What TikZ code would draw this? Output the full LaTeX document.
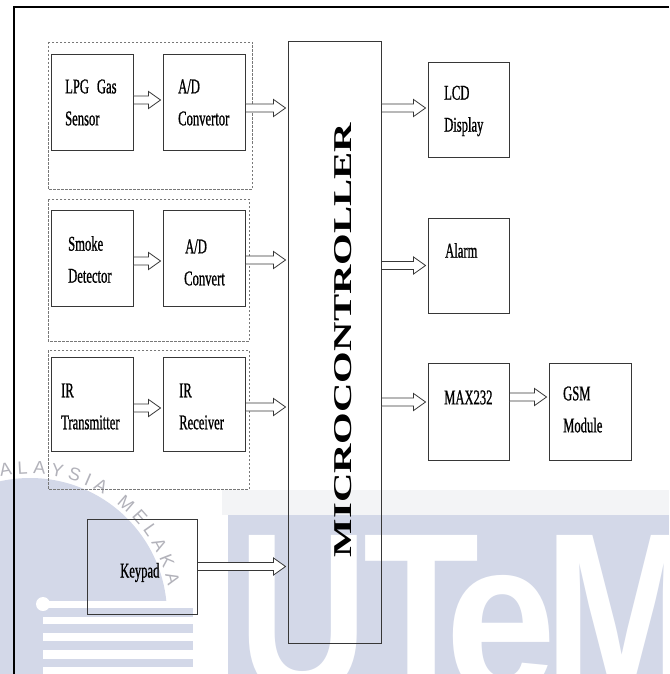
\documentclass[tikz,border=0pt]{standalone}
\usepackage{fontspec}
\setmainfont{Liberation Serif}
\newfontfamily\lblfont[FakeStretch=0.6,FakeBold=0.8]{Liberation Serif}
\newfontfamily\wmfont{Liberation Sans}
\usepackage{graphicx}
\usetikzlibrary{calc,decorations.text}
\definecolor{lav}{RGB}{211,216,232}
\definecolor{faint}{RGB}{243,244,246}
\definecolor{ringgray}{RGB}{178,178,186}
\definecolor{boxline}{RGB}{55,55,55}
\definecolor{dashline}{RGB}{120,120,120}
\newcommand\ringfmt{\wmfont\fontsize{18}{18}\selectfont\color{ringgray}}
\begin{document}
\begin{tikzpicture}[x=1pt,y=-1pt,
  blk/.style={draw=boxline, line width=0.9pt, minimum width=82pt, minimum height=96pt, inner sep=0pt},
  lbl/.style={anchor=west, align=left, inner sep=0pt, text=black, font=\lblfont\fontsize{21}{32}\selectfont},
  grp/.style={draw=dashline, line width=0.9pt, dash pattern=on 2.5pt off 1.5pt},
  wmletter/.style={anchor=base west, inner sep=0pt, text=white},
  harrow/.style={draw=boxline, fill=white, line width=0.8pt, line join=miter,
    to path={let \p1=(\tikztostart), \p2=(\tikztotarget) in
      (\x1,{\y1+4pt}) -- ({\x2-14pt},{\y1+4pt}) -- ({\x2-14pt},{\y1+8.5pt}) -- ({\x2-2pt},\y1)
      -- ({\x2-14pt},{\y1-8.5pt}) -- ({\x2-14pt},{\y1-4pt}) -- (\x1,{\y1-4pt}) -- cycle}}]
\useasboundingbox (0,0) rectangle (669,674);
\fill[white] (0,0) rectangle (669,674);

% ---------- watermark ----------
\fill[faint] (222,490) rectangle (669,515);
\fill[lav] (228,515) rectangle (669,674);
\node[wmletter] (wmU) at (238.7,695) {\resizebox{129.6pt}{160pt}{\wmfont\bfseries U}};
\node[wmletter] (wmT) at (363,695) {\resizebox{116pt}{160pt}{\wmfont\bfseries T}};
\node[wmletter] (wme) at (445,695) {\resizebox{111pt}{120pt}{\wmfont\bfseries e}};
\node[wmletter] (wmM) at (544.4,695) {\resizebox{155pt}{160pt}{\wmfont\bfseries M}};
\fill[lav] (30,615) circle[radius=137pt];
\fill[white] (43,601) rectangle (193,674);
\foreach \ya/\yb in {608/617, 624/633, 641/650, 659/667}
  \fill[lav] (43,\ya) rectangle (193,\yb);
\fill[white] (43,604) circle[radius=7pt];
\begin{scope}[y=1pt]
\path[decorate, decoration={text along path, text={|\ringfmt|ALAYSIA MELAKA}, text align={fit to path}}]
  (30,-615) ++(102:141) arc[start angle=102, end angle=12, radius=141];
\end{scope}

% ---------- frame ----------
\draw[line width=2pt, black] (669,7) -- (14,7) -- (14,674);

% ---------- dashed groups ----------
\draw[grp] (48,42) rectangle (252,189);
\draw[grp] (48,199) rectangle (249,341);
\draw[grp] (48,350) rectangle (249,489);

% ---------- blocks ----------
\node[blk] (lpg) at (92,102) {};
\node[blk] (adc1) at (204,102) {};
\node[blk] (smoke) at (92,258) {};
\node[blk] (adc2) at (204,258) {};
\node[blk, minimum height=94pt] (irt) at (92,404) {};
\node[blk, minimum height=94pt] (irr) at (204,404) {};
\node[blk, minimum width=110pt, minimum height=95pt] (keypad) at (142,566.5) {};
\node[blk, minimum width=93pt, minimum height=602pt] (mcu) at (334.5,342) {};
\node[blk, minimum width=81pt, minimum height=95pt] (lcd) at (468.5,109.5) {};
\node[blk, minimum width=81pt, minimum height=95pt] (alarm) at (468.5,265.5) {};
\node[blk, minimum width=81pt, minimum height=97pt] (max) at (468.5,411.5) {};
\node[blk, minimum width=82pt, minimum height=97pt] (gsm) at (590,411.5) {};

% ---------- labels ----------
\node[lbl] (lpgt) at (65,102.5) {LPG\hskip 8pt Gas\\Sensor};
\node[lbl] (adc1t) at (178,102.5) {A/D\\Convertor};
\node[lbl] (smoket) at (68,259.5) {Smoke\\Detector};
\node[lbl] (adc2t) at (184,262.5) {\hskip 1pt A/D\\Convert};
\node[lbl] (irtt) at (61,406.5) {IR\\Transmitter};
\node[lbl] (irrt) at (179,406.5) {IR\\Receiver};
\node[lbl] (keypadt) at (120,572.5) {Keypad};
\node[lbl] (lcdt) at (444,111) {LCD\\Display};
\node[lbl] (alarmt) at (445,250.5) {Alarm};
\node[lbl] (maxt) at (444,397.5) {MAX232};
\node[lbl] (gsmt) at (563,409.5) {GSM\\Module};
\node[rotate=90, inner sep=0pt, text=black] (mcut) at (343.5,340)
  {\resizebox{434pt}{17pt}{\bfseries MICROCONTROLLER}};

% ---------- connectors ----------
\draw[harrow] ([yshift=2pt]lpg.east) to (adc1.west);
\draw[harrow] ([yshift=-6pt]adc1.east) to (mcu.west);
\draw[harrow] ([yshift=-3pt]smoke.east) to (adc2.west);
\draw[harrow] ([yshift=-2pt]adc2.east) to (mcu.west);
\draw[harrow] ([yshift=-4pt]irt.east) to (irr.west);
\draw[harrow] ([yshift=-3pt]irr.east) to (mcu.west);
\draw[harrow] (keypad.east) to (mcu.west);
\draw[harrow] ($(mcu.east |- lcd.west)+(0,-1.5)$) to (lcd.west);
\draw[harrow] (mcu.east |- alarm.west) to (alarm.west);
\draw[harrow] ($(mcu.east |- max.west)+(0,-9.5)$) to (max.west);
\draw[harrow] ([yshift=14.5pt]max.east) to (gsm.west);
\end{tikzpicture}
\end{document}
